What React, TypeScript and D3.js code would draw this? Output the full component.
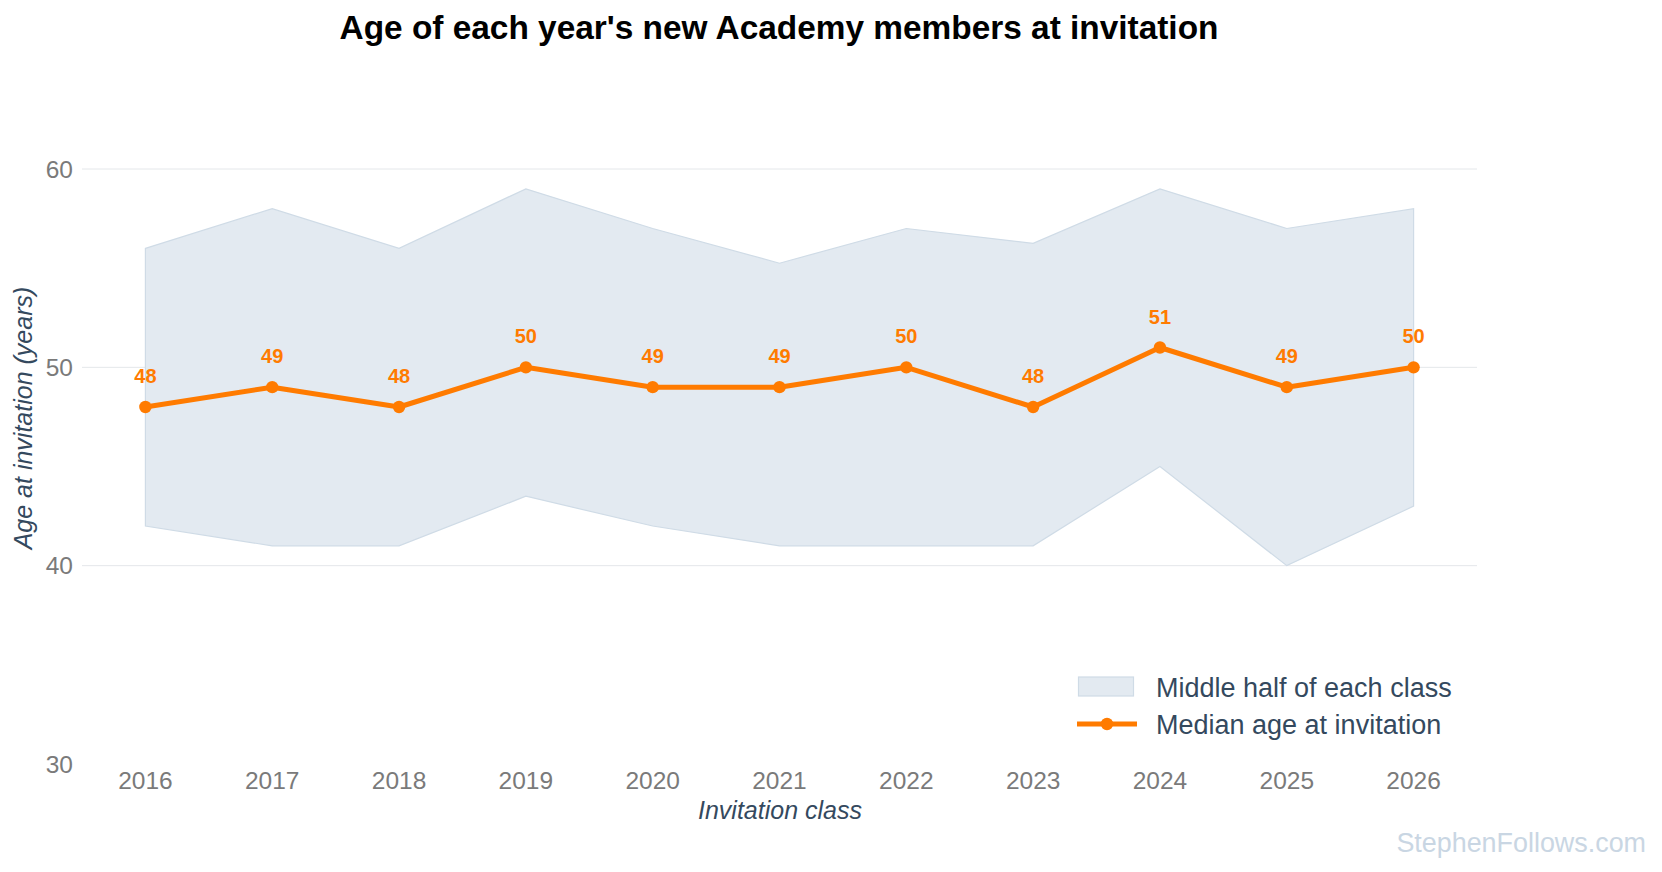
import React from "react";
import * as d3 from "d3";

const years = [2016, 2017, 2018, 2019, 2020, 2021, 2022, 2023, 2024, 2025, 2026];
const medianAge = [48, 49, 48, 50, 49, 49, 50, 48, 51, 49, 50];
const upperQuartile = [56, 58, 56, 59, 57, 55.25, 57, 56.25, 59, 57, 58];
const lowerQuartile = [42, 41, 41, 43.5, 42, 41, 41, 41, 45, 40, 43];
const yTicks = [30, 40, 50, 60];
const gridTicks = [40, 50, 60];

const W = 1662;
const H = 872;
const FONT = "'Liberation Sans', Arial, Helvetica, sans-serif";
const ORANGE = "#ff7b00";

export default function App() {
  const x = d3.scaleLinear().domain([2015.5, 2026.5]).range([82, 1477]);
  const y = d3.scaleLinear().domain([30, 60]).range([764, 169]);

  const rows = years.map((yr, i) => ({ yr, med: medianAge[i], lo: lowerQuartile[i], hi: upperQuartile[i] }));

  const area = d3
    .area<any>()
    .x((d) => x(d.yr))
    .y0((d) => y(d.lo))
    .y1((d) => y(d.hi));
  const line = d3
    .line<any>()
    .x((d) => x(d.yr))
    .y((d) => y(d.med));

  return (
    <svg width={W} height={H} style={{ position: "absolute", left: 0, top: 0, background: "#fff" }} fontFamily={FONT}>
      <rect x={0} y={0} width={W} height={H} fill="#fff" />
      <text x={779} y={38.5} textAnchor="middle" fontSize={33.4} fontWeight="bold" fill="#000">
        Age of each year's new Academy members at invitation
      </text>

      {gridTicks.map((t) => (
        <line key={t} x1={82} x2={1477} y1={y(t)} y2={y(t)} stroke="#e4e7ea" strokeWidth={1} />
      ))}

      {yTicks.map((t) => (
        <text key={t} x={73} y={y(t)} dy="0.35em" textAnchor="end" fontSize={24.5} fill="#7a7a7a">
          {t}
        </text>
      ))}
      {years.map((yr) => (
        <text key={yr} x={x(yr)} y={789} textAnchor="middle" fontSize={24.5} fill="#7a7a7a">
          {yr}
        </text>
      ))}

      <path d={area(rows) || ""} fill="#e3eaf1" stroke="#cfdbe6" strokeWidth={1.2} />

      <path d={line(rows) || ""} fill="none" stroke={ORANGE} strokeWidth={5} strokeLinejoin="round" />
      {rows.map((d) => (
        <circle key={d.yr} cx={x(d.yr)} cy={y(d.med)} r={6.2} fill={ORANGE} />
      ))}
      {rows.map((d) => (
        <text key={"l" + d.yr} x={x(d.yr)} y={y(d.med) - 24} textAnchor="middle" fontSize={20} fontWeight="bold" fill={ORANGE}>
          {d.med}
        </text>
      ))}

      <text x={780} y={819} textAnchor="middle" fontSize={25} fontStyle="italic" fill="#34495e">
        Invitation class
      </text>
      <text
        transform={`translate(32,418) rotate(-90)`}
        textAnchor="middle"
        fontSize={25}
        fontStyle="italic"
        fill="#34495e"
      >
        Age at invitation (years)
      </text>

      <rect x={1078.5} y={677} width={55} height={19} fill="#e3eaf1" stroke="#cfdbe6" strokeWidth={1.2} />
      <text x={1156} y={696.5} fontSize={27} fill="#34495e">
        Middle half of each class
      </text>
      <line x1={1077} x2={1137} y1={724} y2={724} stroke={ORANGE} strokeWidth={5} />
      <circle cx={1107} cy={724} r={6.2} fill={ORANGE} />
      <text x={1156} y={733.5} fontSize={27} fill="#34495e">
        Median age at invitation
      </text>

      <text x={1646} y={852} textAnchor="end" fontSize={26.9} fill="#c9d6e3">
        StephenFollows.com
      </text>
    </svg>
  );
}
